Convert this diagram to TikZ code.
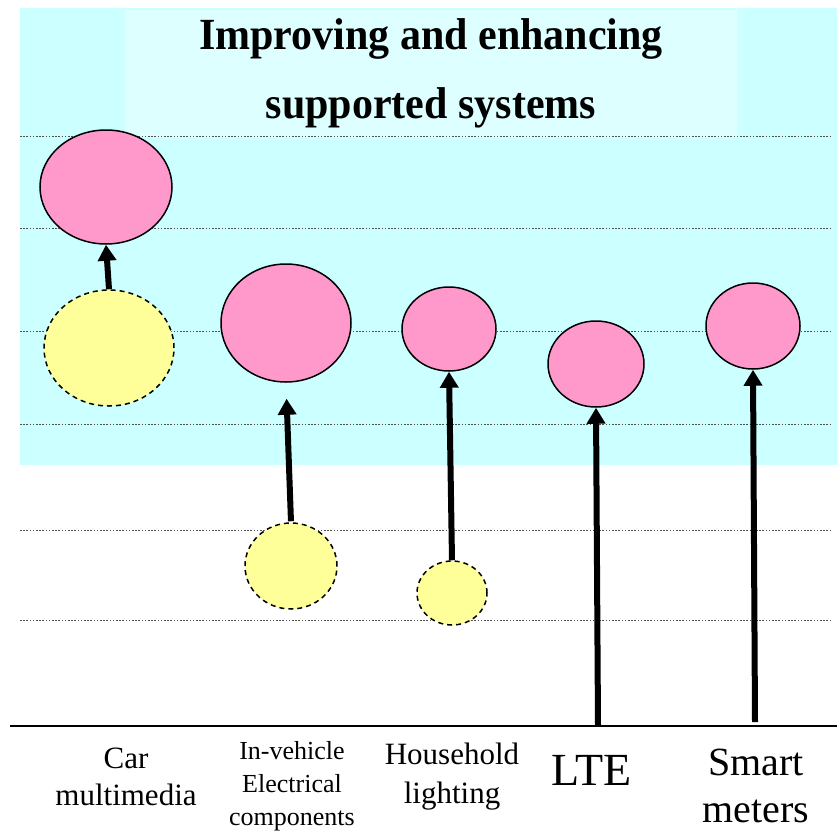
\documentclass[tikz,border=0pt]{standalone}
\usepackage{fontspec}
\setmainfont{Liberation Serif}
\usetikzlibrary{shapes.geometric,arrows.meta}
\definecolor{bandcyan}{RGB}{204,255,255}
\definecolor{titlecyan}{RGB}{222,255,255}
\definecolor{bubblepink}{RGB}{255,153,204}
\definecolor{bubbleyellow}{RGB}{255,255,153}
\definecolor{guidegray}{RGB}{80,80,80}
\tikzset{
  newsys/.style={ellipse,draw=black,line width=1.5pt,fill=bubblepink,inner sep=0pt},
  oldsys/.style={ellipse,draw=black,line width=1.5pt,dash pattern=on 5pt off 4pt,fill=bubbleyellow,inner sep=0pt},
  guide/.style={draw=guidegray,line width=0.8pt,dash pattern=on 1.6pt off 1.6pt},
  growth/.style={line width=6pt,-{Triangle[width=18pt,length=16pt]}},
  caption/.style={align=center,text=black,inner sep=0pt},
}
\begin{document}
\begin{tikzpicture}[x=1pt,y=-1pt]
\useasboundingbox (0,0) rectangle (837,830);
% shaded band and title panel
\fill[bandcyan] (20,8) rectangle (837,465);
\fill[titlecyan] (125,10) rectangle (737,138);
\node[caption,font=\bfseries\fontsize{42}{65}\selectfont,yscale=1.06] (title) at (431,73)
  {Improving and enhancing\\supported systems};
% horizontal guide lines
\foreach \gy in {136,228,331,424,530,620}
  \draw[guide] (20,\gy) -- (830,\gy);
% base line
\draw[line width=2pt] (10,726) -- (837,726);
% bubbles
\node[newsys,minimum width=132pt,minimum height=114pt] (carnew) at (106,187) {};
\node[oldsys,minimum width=130pt,minimum height=116pt] (carold) at (109,348) {};
\node[newsys,minimum width=130pt,minimum height=118pt] (ivnew) at (286,323) {};
\node[oldsys,minimum width=92pt,minimum height=86pt] (ivold) at (291,566) {};
\node[newsys,minimum width=94pt,minimum height=84pt] (hhnew) at (449,329) {};
\node[oldsys,minimum width=70pt,minimum height=64pt] (hhold) at (452,593) {};
\node[newsys,minimum width=96pt,minimum height=86pt] (ltenew) at (596,364) {};
\node[newsys,minimum width=94pt,minimum height=86pt] (smnew) at (753,326) {};
\coordinate (ltebase) at (598,726);
\coordinate (smbase) at (755,722);
% growth arrows
\draw[growth] (carold.north) -- (carnew.south);
\draw[growth,shorten <=1pt,shorten >=16pt] (ivold.north) -- (ivnew.south);
\draw[growth] (hhold.north) -- (hhnew.south);
\draw[growth] (ltebase) -- (ltenew.south);
\draw[growth] (smbase) -- (smnew.south);
% category labels
\node[caption,font=\fontsize{31}{37}\selectfont] (lcar) at (126,777) {Car\\multimedia};
\node[caption,font=\fontsize{26}{33}\selectfont] (liv) at (292,786) {In-vehicle\\Electrical\\components};
\node[caption,font=\fontsize{31}{39}\selectfont] (lhh) at (452,777) {Household\\lighting};
\node[caption,font=\fontsize{46}{46}\selectfont] (llte) at (592,770) {LTE};
\node[caption,font=\fontsize{40}{47}\selectfont] (lsm) at (756,786) {Smart\\meters};
\end{tikzpicture}
\end{document}
